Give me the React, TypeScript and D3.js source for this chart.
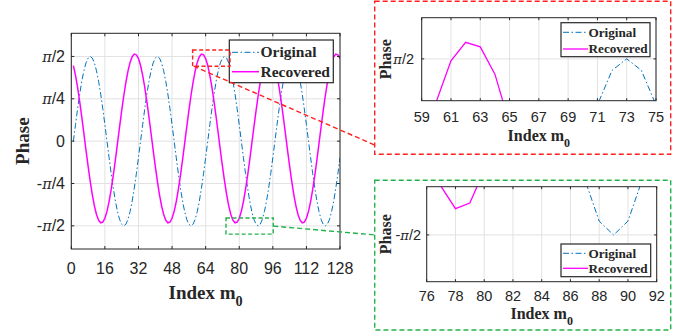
import React from 'react';
import * as d3 from 'd3';

// ---------- data ----------
const indexM: number[] = d3.range(1, 129);

const original: number[] = [
  0, 0.306, 0.601, 0.873, 1.111, 1.306, 1.451, 1.541, 1.571, 1.541, 1.451, 1.306, 1.111, 0.873, 0.601, 0.306,
  0, -0.306, -0.601, -0.873, -1.111, -1.306, -1.451, -1.541, -1.571, -1.541, -1.451, -1.306, -1.111, -0.873, -0.601, -0.306,
  0, 0.306, 0.601, 0.873, 1.111, 1.306, 1.451, 1.541, 1.571, 1.541, 1.451, 1.306, 1.111, 0.873, 0.601, 0.306,
  0, -0.306, -0.601, -0.873, -1.111, -1.306, -1.451, -1.541, -1.571, -1.541, -1.451, -1.306, -1.111, -0.873, -0.601, -0.306,
  0, 0.306, 0.601, 0.873, 1.111, 1.306, 1.451, 1.541, 1.571, 1.541, 1.451, 1.306, 1.111, 0.873, 0.601, 0.306,
  0, -0.306, -0.601, -0.873, -1.111, -1.306, -1.451, -1.541, -1.571, -1.541, -1.451, -1.306, -1.111, -0.873, -0.601, -0.306,
  0, 0.306, 0.601, 0.873, 1.111, 1.306, 1.451, 1.541, 1.571, 1.541, 1.451, 1.306, 1.111, 0.873, 0.601, 0.306,
  0, -0.306, -0.601, -0.873, -1.111, -1.306, -1.451, -1.541, -1.571, -1.541, -1.451, -1.306, -1.111, -0.873, -0.601, -0.306,
];

const recovered: number[] = [
  1.402, 1.221, 0.996, 0.734, 0.446, 0.142, -0.165, -0.463, -0.742, -0.991, -1.199, -1.360, -1.466, -1.514, -1.502, -1.431,
  -1.302, -1.121, -0.896, -0.634, -0.346, -0.042, 0.265, 0.563, 0.842, 1.091, 1.299, 1.460, 1.566, 1.614, 1.602, 1.531,
  1.402, 1.221, 0.996, 0.734, 0.446, 0.142, -0.165, -0.463, -0.742, -0.991, -1.199, -1.360, -1.466, -1.514, -1.502, -1.431,
  -1.302, -1.121, -0.896, -0.634, -0.346, -0.042, 0.265, 0.563, 0.842, 1.091, 1.299, 1.460, 1.566, 1.614, 1.602, 1.531,
  1.402, 1.221, 0.996, 0.734, 0.446, 0.142, -0.165, -0.463, -0.742, -0.991, -1.199, -1.360, -1.466, -1.514, -1.502, -1.431,
  -1.302, -1.121, -0.896, -0.634, -0.346, -0.042, 0.265, 0.563, 0.842, 1.091, 1.299, 1.460, 1.566, 1.614, 1.602, 1.531,
  1.402, 1.221, 0.996, 0.734, 0.446, 0.142, -0.165, -0.463, -0.742, -0.991, -1.199, -1.360, -1.466, -1.514, -1.502, -1.431,
  -1.302, -1.121, -0.896, -0.634, -0.346, -0.042, 0.265, 0.563, 0.842, 1.091, 1.299, 1.460, 1.566, 1.614, 1.602, 1.531,
];

const seriesNames = ['Original', 'Recovered'];

const mainXDomain = [0, 128];
const mainYDomain = [-2, 2];
const mainXTicks = [0, 16, 32, 48, 64, 80, 96, 112, 128];
const mainYTicks = [-Math.PI / 2, -Math.PI / 4, 0, Math.PI / 4, Math.PI / 2];
const mainYTickLabels = ['-π/2', '-π/4', '0', 'π/4', 'π/2'];

const zoomTopXDomain = [59, 75];
const zoomTopYDomain = [1.462, 1.678];
const zoomTopXTicks = [59, 61, 63, 65, 67, 69, 71, 73, 75];
const zoomTopYTicks = [Math.PI / 2];
const zoomTopYTickLabels = ['π/2'];

const zoomBotXDomain = [76, 92];
const zoomBotYDomain = [-1.672, -1.4665];
const zoomBotXTicks = [76, 78, 80, 82, 84, 86, 88, 90, 92];
const zoomBotYTicks = [-Math.PI / 2];
const zoomBotYTickLabels = ['-π/2'];

// highlighted regions in data space of the main axes
const redRegionX = [57.8, 75.6];
const redRegionY = [1.39, 1.69];
const greenRegionX = [73.7, 96.2];
const greenRegionY = [-1.725, -1.425];

// ---------- style ----------
const BLUE = '#0072BD';
const MAGENTA = '#FF00FF';
const RED = '#FF1F1F';
const GREEN = '#22B24C';
const AX = '#262626';
const GRID = '#e2e2e2';
const SANS = '"Liberation Sans", Arial, sans-serif';
const SERIF = '"Liberation Serif", "Times New Roman", serif';

type AxesProps = {
  id: string;
  left: number; top: number; right: number; bottom: number;
  xDomain: number[]; yDomain: number[];
  xTicks: number[]; yTicks: number[]; yTickLabels: string[];
  tickFont: number; titleFont: number; legendFont: number;
  lineW: number;
  xLabelY: number; xTitleY: number; yTitleX: number; yLabelX: number;
  legend: { x0: number; x1: number; y0: number; y1: number; rows: number[]; sx0: number; sx1: number; tx: number };
  tickLen: number;
};

function PiLabel({ text }: { text: string }) {
  const parts = text.split('π');
  if (parts.length === 1) return <>{text}</>;
  return (
    <>
      {parts[0]}
      <tspan fontStyle="italic" fontFamily={'"DejaVu Serif", serif'} fontSize="0.9em">π</tspan>
      {parts[1]}
    </>
  );
}

function Axes(p: AxesProps) {
  const xs = d3.scaleLinear().domain(p.xDomain).range([p.left, p.right]);
  const ys = d3.scaleLinear().domain(p.yDomain).range([p.bottom, p.top]);
  const pts = (vals: number[]) => indexM.map((m, i) => [m, vals[i]] as [number, number]);
  const line = d3.line<[number, number]>().x(d => xs(d[0])).y(d => ys(d[1]));
  const cx = (p.left + p.right) / 2;
  const cy = (p.top + p.bottom) / 2;
  const L = p.legend;
  return (
    <g>
      <defs>
        <clipPath id={p.id}>
          <rect x={p.left} y={p.top} width={p.right - p.left} height={p.bottom - p.top} />
        </clipPath>
      </defs>
      <rect x={p.left} y={p.top} width={p.right - p.left} height={p.bottom - p.top} fill="#fff" />
      {p.xTicks.map(t => (
        <line key={'gx' + t} x1={xs(t)} x2={xs(t)} y1={p.top} y2={p.bottom} stroke={GRID} strokeWidth={1} />
      ))}
      {p.yTicks.map(t => (
        <line key={'gy' + t} x1={p.left} x2={p.right} y1={ys(t)} y2={ys(t)} stroke={GRID} strokeWidth={1} />
      ))}
      <g clipPath={`url(#${p.id})`}>
        <path d={line(pts(original)) || ''} fill="none" stroke={BLUE} strokeWidth={1} strokeDasharray="6,2.5,1.5,2.5" />
        <path d={line(pts(recovered)) || ''} fill="none" stroke={MAGENTA} strokeWidth={p.lineW} />
      </g>
      {p.xTicks.map(t => (
        <g key={'tx' + t}>
          <line x1={xs(t)} x2={xs(t)} y1={p.bottom} y2={p.bottom - p.tickLen} stroke={AX} />
          <line x1={xs(t)} x2={xs(t)} y1={p.top} y2={p.top + p.tickLen} stroke={AX} />
          <text x={xs(t)} y={p.xLabelY} textAnchor="middle" fontFamily={SANS} fontSize={p.tickFont} fill={AX}>{t}</text>
        </g>
      ))}
      {p.yTicks.map((t, i) => (
        <g key={'ty' + i}>
          <line x1={p.left} x2={p.left + p.tickLen} y1={ys(t)} y2={ys(t)} stroke={AX} />
          <line x1={p.right} x2={p.right - p.tickLen} y1={ys(t)} y2={ys(t)} stroke={AX} />
          <text x={p.yLabelX} y={ys(t)} dy="0.35em" textAnchor="end" fontFamily={SANS} fontSize={p.tickFont} fill={AX}>
            <PiLabel text={p.yTickLabels[i]} />
          </text>
        </g>
      ))}
      <rect x={p.left} y={p.top} width={p.right - p.left} height={p.bottom - p.top} fill="none" stroke={AX} strokeWidth={1} />
      <text x={cx} y={p.xTitleY} textAnchor="middle" fontFamily={SERIF} fontWeight="bold" fontSize={p.titleFont} fill={AX}>
        Index m<tspan fontSize={p.titleFont * 0.75} dy={p.titleFont * 0.35}>0</tspan>
      </text>
      <text transform={`translate(${p.yTitleX},${cy}) rotate(-90)`} textAnchor="middle" dy="0.35em" fontFamily={SERIF} fontWeight="bold" fontSize={p.titleFont} fill={AX}>
        Phase
      </text>
      <g>
        <rect x={L.x0} y={L.y0} width={L.x1 - L.x0} height={L.y1 - L.y0} fill="#fff" stroke={AX} strokeWidth={1.2} />
        {seriesNames.map((name, i) => (
          <g key={name}>
            <line x1={L.sx0} x2={L.sx1} y1={L.rows[i]} y2={L.rows[i]} stroke={i === 0 ? BLUE : MAGENTA} strokeWidth={i === 0 ? 1 : p.lineW} strokeDasharray={i === 0 ? '6,2.5,1.5,2.5' : undefined} />
            <text x={L.tx} y={L.rows[i]} dy="0.33em" fontFamily={SERIF} fontWeight="bold" fontSize={p.legendFont} fill={AX}>{name}</text>
          </g>
        ))}
      </g>
    </g>
  );
}

export default function App() {
  const mainL = 71.3, mainT = 33.3, mainR = 340, mainB = 249;
  const xs = d3.scaleLinear().domain(mainXDomain).range([mainL, mainR]);
  const ys = d3.scaleLinear().domain(mainYDomain).range([mainB, mainT]);
  const rx0 = xs(redRegionX[0]), rx1 = xs(redRegionX[1]);
  const ry0 = ys(redRegionY[1]), ry1 = ys(redRegionY[0]);
  const gx0 = xs(greenRegionX[0]), gx1 = xs(greenRegionX[1]);
  const gy0 = ys(greenRegionY[1]), gy1 = ys(greenRegionY[0]);
  const redBox = { x0: 374.7, y0: 1.2, x1: 670.7, y1: 154.3 };
  const greenBox = { x0: 374.7, y0: 180.3, x1: 670.7, y1: 330 };
  const botYs = d3.scaleLinear().domain(zoomBotYDomain).range([281.7, 186.7]);

  return (
    <svg width={687} height={336} style={{ position: 'absolute', left: 0, top: 0, background: '#fff' }}>
      <rect x={0} y={0} width={687} height={336} fill="#fff" />
      <Axes
        id="clipMain"
        left={mainL} top={mainT} right={mainR} bottom={mainB}
        xDomain={mainXDomain} yDomain={mainYDomain}
        xTicks={mainXTicks} yTicks={mainYTicks} yTickLabels={mainYTickLabels}
        tickFont={16} titleFont={19} legendFont={15.5} lineW={1.5}
        xLabelY={274} xTitleY={299} yTitleX={22} yLabelX={65}
        tickLen={3}
        legend={{ x0: 229.3, x1: 333.3, y0: 40, y1: 82.7, rows: [52.3, 71.7], sx0: 232, sx1: 259, tx: 260.5 }}
      />
      <Axes
        id="clipTop"
        left={421.7} top={17.7} right={656} bottom={100.7}
        xDomain={zoomTopXDomain} yDomain={zoomTopYDomain}
        xTicks={zoomTopXTicks} yTicks={zoomTopYTicks} yTickLabels={zoomTopYTickLabels}
        tickFont={14.5} titleFont={16} legendFont={13.2} lineW={1.3}
        xLabelY={121.5} xTitleY={141} yTitleX={385} yLabelX={414}
        tickLen={2.5}
        legend={{ x0: 561, x1: 650, y0: 22.7, y1: 56.7, rows: [32.3, 49], sx0: 563, sx1: 588, tx: 588.5 }}
      />
      <Axes
        id="clipBot"
        left={426.7} top={186.7} right={656.7} bottom={281.7}
        xDomain={zoomBotXDomain} yDomain={zoomBotYDomain}
        xTicks={zoomBotXTicks} yTicks={zoomBotYTicks} yTickLabels={zoomBotYTickLabels}
        tickFont={14.5} titleFont={16} legendFont={13.2} lineW={1.3}
        xLabelY={301} xTitleY={319} yTitleX={385} yLabelX={421}
        tickLen={2.5}
        legend={{ x0: 561, x1: 650.7, y0: 244, y1: 276.7, rows: [253.3, 268.3], sx0: 563, sx1: 588, tx: 588.5 }}
      />
      {/* highlight rectangles on the main axes */}
      <rect x={rx0} y={ry0} width={rx1 - rx0} height={ry1 - ry0} fill="none" stroke={RED} strokeWidth={1.4} strokeDasharray="4,2.5" />
      <rect x={gx0} y={gy0} width={gx1 - gx0} height={gy1 - gy0} fill="none" stroke={GREEN} strokeWidth={1.4} strokeDasharray="4,2.5" />
      {/* connectors */}
      <line x1={rx0 + 1} y1={ry1} x2={redBox.x0} y2={145} stroke={RED} strokeWidth={1.4} strokeDasharray="5,3" />
      <line x1={gx1} y1={(gy0 + gy1) / 2} x2={greenBox.x0} y2={botYs(-Math.PI / 2)} stroke={GREEN} strokeWidth={1.4} strokeDasharray="5,3" />
      {/* inset frames */}
      <rect x={redBox.x0} y={redBox.y0} width={redBox.x1 - redBox.x0} height={redBox.y1 - redBox.y0} fill="none" stroke={RED} strokeWidth={1.4} strokeDasharray="5,3" />
      <rect x={greenBox.x0} y={greenBox.y0} width={greenBox.x1 - greenBox.x0} height={greenBox.y1 - greenBox.y0} fill="none" stroke={GREEN} strokeWidth={1.4} strokeDasharray="5,3" />
    </svg>
  );
}
